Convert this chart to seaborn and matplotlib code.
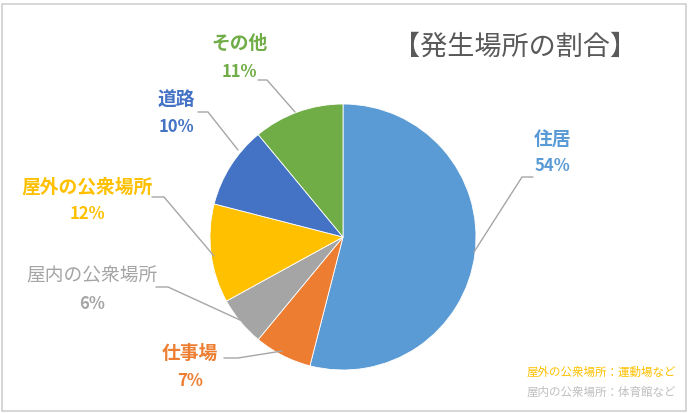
import seaborn as sns
import matplotlib
matplotlib.use('Agg')
import matplotlib.pyplot as plt
from matplotlib.patches import Rectangle

# data
places = ['住居', '仕事場', '屋内の公衆場所', '屋外の公衆場所', '道路', 'その他']
shares = [54, 7, 6, 12, 10, 11]
colors = ['#5B9BD5', '#ED7D31', '#A5A5A5', '#FFC000', '#4472C4', '#70AD47']
title = '【発生場所の割合】'
notes = ['屋外の公衆場所：運動場など', '屋内の公衆場所：体育館など']
note_colors = ['#FFC000', '#BFBFBF']

sns.set_theme(style='white')
plt.rcParams['font.family'] = ['Noto Sans CJK JP', 'DejaVu Sans']

W, H = 690, 413
fig = plt.figure(figsize=(6.9, 4.13), dpi=100)
ax = fig.add_axes([0, 0, 1, 1])
ax.set_xlim(0, W)
ax.set_ylim(0, H)
ax.set_aspect('equal')
ax.axis('off')

# pie in pixel space (y measured from bottom)
cx, cy, r = 343, H - 237, 133
ax.pie(shares, colors=colors, startangle=90, counterclock=False,
       center=(cx, cy), radius=r, wedgeprops=dict(linewidth=0.6, edgecolor='white'))
ax.set_xlim(0, W)
ax.set_ylim(0, H)

# label layout: name position, percent position, leader polyline (pixel coords, y from top)
layout = [
    ((552, 139), (552, 166), [(533, 177), (522, 177), (474, 252)]),
    ((190, 353), (190, 381), [(224, 358), (238, 358), (282, 351)]),
    ((92, 276), (92, 304), [(156, 287), (168, 287), (240, 320)]),
    ((87, 187), (87, 214), [(152, 197), (164, 197), (214, 256)]),
    ((176, 100), (176, 127), [(198, 112), (208, 112), (238, 150)]),
    ((239, 43), (239, 72), [(258, 80), (267, 80), (295, 112)]),
]
for name, pct, col, (npos, ppos, line) in zip(places, shares, colors, layout):
    gray = col == '#A5A5A5'
    ax.text(npos[0], H - npos[1], name, color=col, fontsize=13.5,
            fontweight='normal' if gray else 'bold', ha='center', va='center')
    ax.text(ppos[0], H - ppos[1], f'{pct}%', color=col, fontsize=12,
            fontweight='bold', ha='center', va='center')
    xs = [p[0] for p in line]
    ys = [H - p[1] for p in line]
    ax.plot(xs, ys, color='#A6A6A6', linewidth=1.0)

ax.text(515, H - 47, title, color='#595959', fontsize=19.5, ha='center', va='center')

for i, (note, nc) in enumerate(zip(notes, note_colors)):
    ax.text(676, H - 372 - i * 20, note, color=nc, fontsize=8.3, ha='right', va='center')

# chart border
fig.patches.append(Rectangle((2 / W, 2 / H), 1 - 6 / W, 1 - 6 / H, transform=fig.transFigure,
                             fill=False, edgecolor='#D0D0D0', linewidth=1.2))

fig.savefig('out.png', dpi=100, facecolor='white')
